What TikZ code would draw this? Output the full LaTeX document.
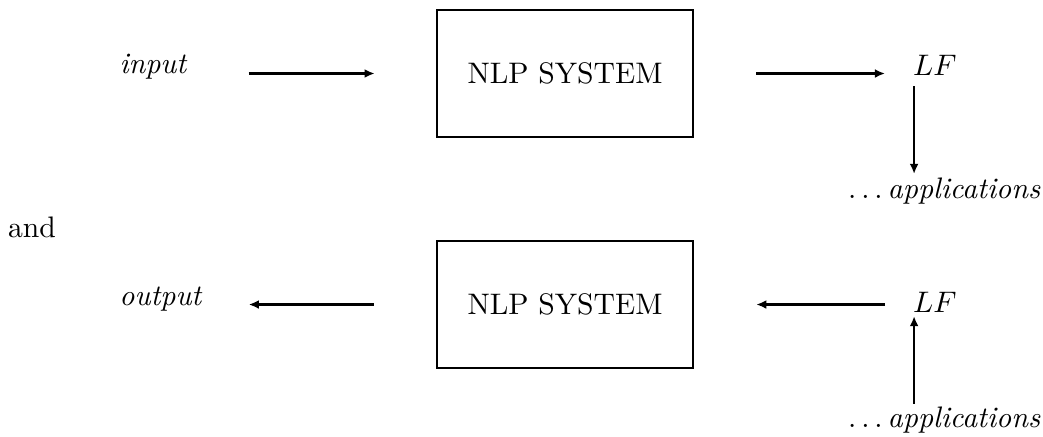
\documentclass[tikz,border=0pt]{standalone}
\usetikzlibrary{arrows.meta}
\begin{document}
\begin{tikzpicture}[x=0.337pt,y=-0.337pt,
    every node/.style={inner sep=0pt},
    sysbox/.style={draw,line width=0.8pt,minimum width=86.3pt,minimum height=42.8pt},
    >={Latex[length=3.4pt,width=3pt]},line width=0.75pt]
    \useasboundingbox (0,0) rectangle (1043,436);
    % parsing
    \node (sys1) [sysbox] at (565,73.5) {NLP SYSTEM};
    \node (in) [anchor=base] at (153.5,73) {\textit{input}};
    \node (lf1) [anchor=base west] at (912,75) {$LF$};
    \node (app1) [anchor=base west] at (847,198) {$\ldots\,$\textit{applications}};
    \draw[->,shorten <=20.2pt,shorten >=20.6pt] (in.east |- sys1.west) -- (sys1.west);
    \draw[->,shorten <=20.9pt,shorten >=9.1pt] (sys1.east) -- (sys1.east -| lf1.west);
    \draw[->,shorten <=3.4pt,shorten >=0.8pt] ([xshift=0.7pt]lf1.south west) -- ([xshift=0.7pt]lf1.south west |- app1.north);
    % and
    \node (and) [anchor=base west] at (7,237) {and};
    % generation
    \node (sys2) [sysbox] at (565,304.5) {NLP SYSTEM};
    \node (out) [anchor=base] at (161,305) {\textit{output}};
    \node (lf2) [anchor=base west] at (912,312) {$LF$};
    \node (app2) [anchor=base west] at (847,427) {$\ldots\,$\textit{applications}};
    \draw[->,shorten <=20.9pt,shorten >=15.2pt] (sys2.west) -- (out.east |- sys2.west);
    \draw[->,shorten <=9.1pt,shorten >=20.9pt] (sys2.east -| lf2.west) -- (sys2.east);
    \draw[->,shorten <=0.5pt,shorten >=1pt] ([xshift=0.7pt]lf2.south west |- app2.north) -- ([xshift=0.7pt]lf2.south west);
\end{tikzpicture}
\end{document}
